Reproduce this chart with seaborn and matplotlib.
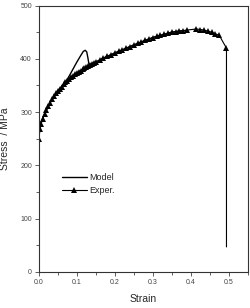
import pandas as pd
import seaborn as sns
import matplotlib.pyplot as plt

exp_strain = [0.000, 0.003, 0.006, 0.010, 0.015, 0.020, 0.025, 0.030, 0.035, 0.040,
              0.045, 0.050, 0.055, 0.060, 0.065, 0.070, 0.075, 0.080, 0.085, 0.090,
              0.095, 0.100, 0.105, 0.110, 0.115, 0.120, 0.125, 0.130, 0.135, 0.140,
              0.145, 0.150, 0.160, 0.170, 0.180, 0.190, 0.200, 0.210, 0.220, 0.230,
              0.240, 0.250, 0.260, 0.270, 0.280, 0.290, 0.300, 0.310, 0.320, 0.330,
              0.340, 0.350, 0.360, 0.370, 0.380, 0.390, 0.415, 0.425, 0.435, 0.445,
              0.455, 0.465, 0.475, 0.494, 0.494]
exp_stress = [250, 268, 278, 287, 296, 304, 311, 318, 324, 330,
              335, 340, 344, 348, 352, 356, 359, 362, 365, 368,
              371, 373, 376, 378, 380, 382, 384, 386, 388, 390,
              392, 394, 398, 402, 405, 408, 411, 414, 417, 420,
              423, 426, 429, 432, 435, 437, 440, 442, 444, 446,
              448, 450, 451, 452, 453, 454, 456, 455, 454, 452,
              450, 447, 444, 420, 47]

# Model curve
model_strain = [0.000, 0.000, 0.005, 0.010, 0.020, 0.030, 0.040, 0.050, 0.060, 0.070,
                0.080, 0.090, 0.100, 0.110, 0.117, 0.122, 0.126, 0.129, 0.132, 0.150,
                0.200, 0.250, 0.300, 0.350, 0.380]
model_stress = [107, 265, 280, 289, 304, 318, 330, 340, 348, 356,
                368, 381, 394, 406, 414, 416, 413, 402, 389, 394,
                411, 426, 440, 450, 453]

df_exp = pd.DataFrame({'Strain': exp_strain, 'Stress': exp_stress})
df_model = pd.DataFrame({'Strain': model_strain, 'Stress': model_stress})

sns.set_style('ticks')
plt.rcParams['font.family'] = ['Liberation Sans', 'DejaVu Sans']

fig = plt.figure(figsize=(2.51, 3.08), dpi=100)
ax = fig.add_axes([0.155, 0.117, 0.832, 0.865])

sns.lineplot(data=df_model, x='Strain', y='Stress', ax=ax, color='black', lw=1.0,
             estimator=None, sort=False, label='Model')
sns.lineplot(data=df_exp, x='Strain', y='Stress', ax=ax, color='black', lw=0.8,
             estimator=None, sort=False, marker='^', markersize=5, markeredgewidth=0,
             markevery=slice(0, len(exp_strain) - 1), label='Exper.')

ax.set_xlim(0, 0.55)
ax.set_ylim(0, 500)
ax.set_xticks([0.0, 0.1, 0.2, 0.3, 0.4, 0.5])
ax.set_xticklabels(['0.0', '0.1', '0.2', '0.3', '0.4', '0.5'])
ax.set_yticks([0, 100, 200, 300, 400, 500])
ax.set_xticks([0.05, 0.15, 0.25, 0.35, 0.45, 0.55], minor=True)
ax.set_yticks([50, 150, 250, 350, 450], minor=True)
ax.tick_params(which='major', length=3, width=0.6, labelsize=5, colors='#444444', pad=2)
ax.tick_params(which='minor', length=2, width=0.6, colors='#444444')
for s in ax.spines.values():
    s.set_visible(True)
    s.set_linewidth(0.8)
    s.set_color('#333333')

ax.set_xlabel('Strain', fontsize=7.5, labelpad=6)
ax.set_ylabel('Stress  / MPa', fontsize=7.5, labelpad=7)

ax.legend(loc='center left', bbox_to_anchor=(0.07, 0.33), frameon=False, fontsize=6.5,
          handlelength=2.8, handletextpad=0.3, labelspacing=0.5)

fig.savefig('out.png', dpi=100)
